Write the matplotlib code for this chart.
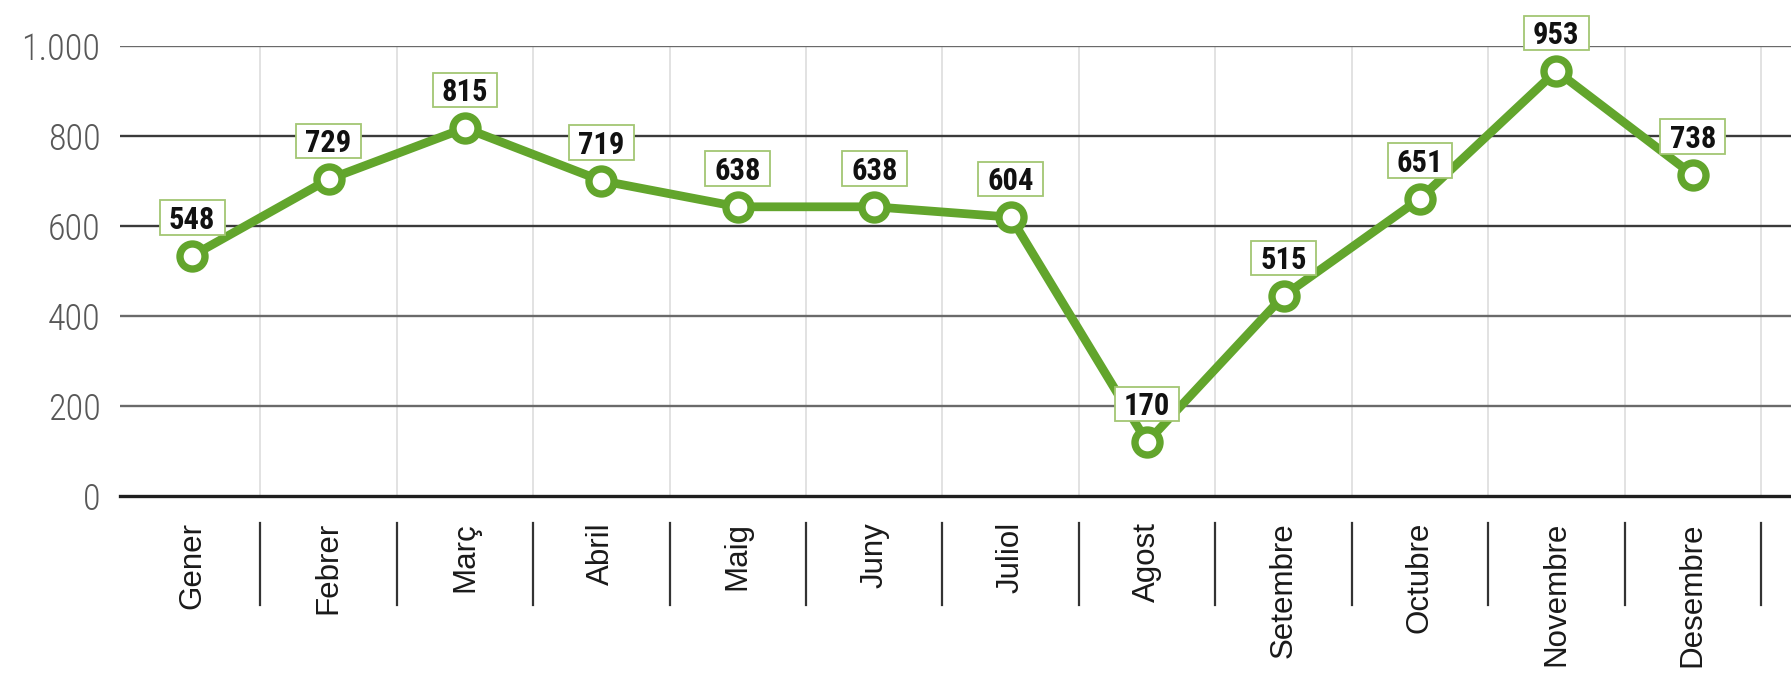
import matplotlib
matplotlib.use("Agg")
import matplotlib.pyplot as plt
from matplotlib import font_manager as fm
from matplotlib.path import Path
import matplotlib.transforms as mtransforms

months = ["Gener", "Febrer", "Març", "Abril", "Maig", "Juny", "Juliol",
          "Agost", "Setembre", "Octubre", "Novembre", "Desembre"]
# values printed in the label boxes
label_values = [548, 729, 815, 719, 638, 638, 604, 170, 515, 651, 953, 738]
# heights at which the markers are drawn in the reference
marker_values = [533, 703, 817, 700, 642, 642, 619, 119, 444, 660, 944, 713]
yticks = [0, 200, 400, 600, 800, 1000]
ytick_labels = ["0", "200", "400", "600", "800", "1.000"]

names = {f.name for f in fm.fontManager.ttflist}
def pick(*cands):
    for c in cands:
        if c in names:
            return c
    return "DejaVu Sans"

narrow = pick("Roboto Condensed", "PT Sans Narrow", "Archivo Narrow", "Liberation Sans")
regular = pick("Liberation Sans", "Arimo", "DejaVu Sans")

GREEN = "#62a52c"


def label_box(x0, y0, width, height, mutation_size):
    # wide, flat rectangle around the text
    padx = 0.30 * mutation_size
    h = 1.12 * mutation_size
    cy = y0 + height / 2 + 0.07 * mutation_size
    xa, xb = x0 - padx, x0 + width + padx
    ya, yb = cy - h / 2, cy + h / 2
    return Path([(xa, ya), (xb, ya), (xb, yb), (xa, yb), (xa, ya)],
                [Path.MOVETO, Path.LINETO, Path.LINETO, Path.LINETO, Path.CLOSEPOLY])


fig = plt.figure(figsize=(17.91, 6.8), dpi=100)
ax = fig.add_axes([120 / 1791, 1 - 495.7 / 680, 1 - 120 / 1791, 450 / 680])
x = list(range(len(months)))

ax.set_xlim(-0.529, 11.72)
ax.set_ylim(0, 1000)

# horizontal grid
for v in yticks:
    if v == 0:
        ax.axhline(v, color="#1e1e1e", lw=2.4, zorder=2, clip_on=False)
    elif v in (800, 600):
        ax.axhline(v, color="#3a3a3a", lw=1.7, zorder=1)
    else:
        ax.axhline(v, color="#6a6a6a", lw=1.7, zorder=1)
# vertical light grid + separators below axis
blend = mtransforms.blended_transform_factory(ax.transData, ax.transAxes)
for k in range(len(months)):
    xs = k + 0.5
    ax.plot([xs, xs], [0, 1], transform=blend, color="#e2e2e2", lw=1.4, zorder=0)
    ax.plot([xs, xs], [-0.061, -0.243], transform=blend, color="#333333",
            lw=1.6, clip_on=False)

ax.plot(x, marker_values, color=GREEN, lw=6.3, marker="o", markersize=18,
        markerfacecolor="white", markeredgecolor=GREEN, markeredgewidth=5.3,
        zorder=5, clip_on=False, solid_joinstyle="round")

for xi, mv, lv in zip(x, marker_values, label_values):
    ax.annotate(str(lv), (xi, mv), xytext=(0, 26), textcoords="offset points",
                ha="center", va="center", fontsize=22, fontweight="bold",
                family=[narrow, "DejaVu Sans"], color="#111111", zorder=6,
                annotation_clip=False,
                bbox=dict(boxstyle=label_box, fc="white", ec="#a3c673", lw=1.3))

ax.set_yticks(yticks)
ax.set_yticklabels(ytick_labels, family=[narrow, "DejaVu Sans"], fontsize=26,
                   fontweight=300, color="#585858")
ax.set_xticks(x)
ax.set_xticklabels(months, rotation=90, family=[regular, "DejaVu Sans"],
                   fontsize=22.5, color="#1a1a1a")
ax.tick_params(axis="y", length=0, pad=14)
ax.tick_params(axis="x", length=0, pad=19)
for lbl in ax.get_xticklabels():
    lbl.set_va("top")
for s in ax.spines.values():
    s.set_visible(False)

fig.savefig("out.png", dpi=100)
